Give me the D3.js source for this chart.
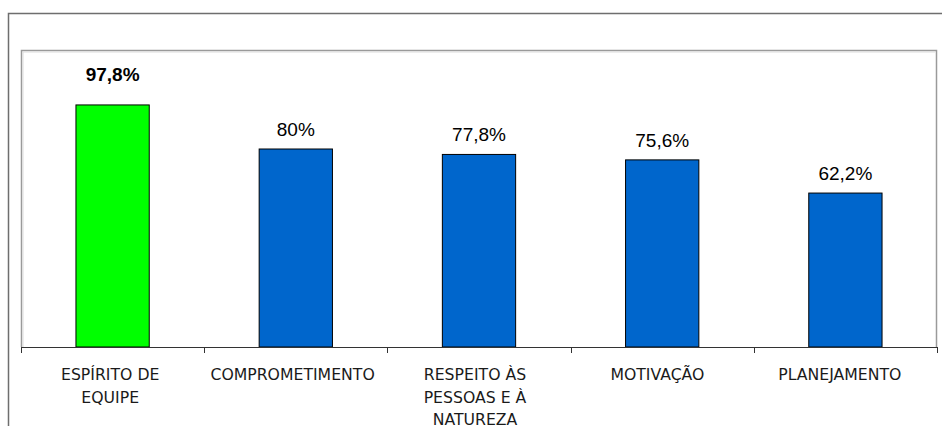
<!DOCTYPE html>
<html><head><meta charset="utf-8">
<script src="https://cdn.jsdelivr.net/npm/d3@7"></script>
<style>body{margin:0;background:#fff}svg{display:block}</style>
</head><body><svg id="c" width="942" height="426"></svg>
<script>
const categories = ["ESPÍRITO DE\nEQUIPE", "COMPROMETIMENTO", "RESPEITO ÀS\nPESSOAS E À\nNATUREZA", "MOTIVAÇÃO", "PLANEJAMENTO"];
const values = [97.8, 80, 77.8, 75.6, 62.2];
const valueLabels = ["97,8%", "80%", "77,8%", "75,6%", "62,2%"];
const barColors = ["#00ff00", "#0066cc", "#0066cc", "#0066cc", "#0066cc"];

(function () {
const svg = d3.select("#c");
const pLeft = 21, pRight = 937, pTop = 50, pBottom = 347;

// outer frame
svg.append("path").attr("d", "M8.5,426V13.5H942").attr("fill", "none").attr("stroke", "#6e6e6e").attr("stroke-width", 1.5);
// inner plot frame
svg.append("path").attr("d", `M${pLeft+0.5},${pBottom}V${pTop+0.5}H${pRight-0.5}V${pBottom}`).attr("fill", "none").attr("stroke", "#9a9a9a").attr("stroke-width", 1.5);
svg.append("path").attr("d", `M${pLeft+2},${pBottom}V${pTop+2}H${pRight-2}`).attr("fill", "none").attr("stroke", "#dcdcdc").attr("stroke-width", 1);

const x = d3.scaleBand().domain(categories).range([pLeft, pRight]).paddingInner(0).paddingOuter(0);
const xl = d3.scaleBand().domain(categories).range([pLeft - 2, pRight - 6]);
const y = d3.scaleLinear().domain([0, 120]).range([pBottom, pTop]);
const bw = x.bandwidth() * 0.4;

svg.selectAll("rect.bar").data(values).join("rect").attr("class", "bar")
  .attr("x", (d, i) => x(categories[i]) + (x.bandwidth() - bw) / 2)
  .attr("y", d => y(d)).attr("width", bw).attr("height", d => y(0) - y(d))
  .attr("fill", (d, i) => barColors[i]).attr("stroke", "#000").attr("stroke-width", 1);

// axis
const ax = svg.append("g").attr("transform", `translate(0,${pBottom})`);
ax.append("line").attr("x1", pLeft).attr("x2", pRight).attr("y1", 0.5).attr("y2", 0.5).attr("stroke", "#333");
const ticks = categories.map(c => x(c)).concat([pRight]);
ax.selectAll("line.t").data(ticks).join("line").attr("class", "t")
  .attr("x1", d => Math.round(d) + 0.5).attr("x2", d => Math.round(d) + 0.5).attr("y1", 0).attr("y2", 6).attr("stroke", "#333");

// category labels
const lbl = svg.selectAll("text.cat").data(categories).join("text").attr("class", "cat")
  .attr("text-anchor", "middle").attr("font-family", "DejaVu Sans, sans-serif").attr("font-size", 15.7).attr("fill", "#1a1a1a");
lbl.each(function(d) {
  const t = d3.select(this);
  d.split("\n").forEach((line, j) => {
    t.append("tspan").attr("x", xl(d) + xl.bandwidth() / 2).attr("y", 380 + j * 22.5).text(line);
  });
});

// value labels
svg.selectAll("text.val").data(values).join("text").attr("class", "val")
  .attr("x", (d, i) => x(categories[i]) + x.bandwidth() / 2)
  .attr("y", (d, i) => y(d) - (i === 0 ? 24 : 13))
  .attr("text-anchor", "middle").attr("font-family", "Liberation Sans, Arial, sans-serif")
  .attr("font-size", 19).attr("font-weight", (d, i) => i === 0 ? "bold" : "normal").attr("fill", "#000")
  .text((d, i) => valueLabels[i]);
})();
</script></body></html>
